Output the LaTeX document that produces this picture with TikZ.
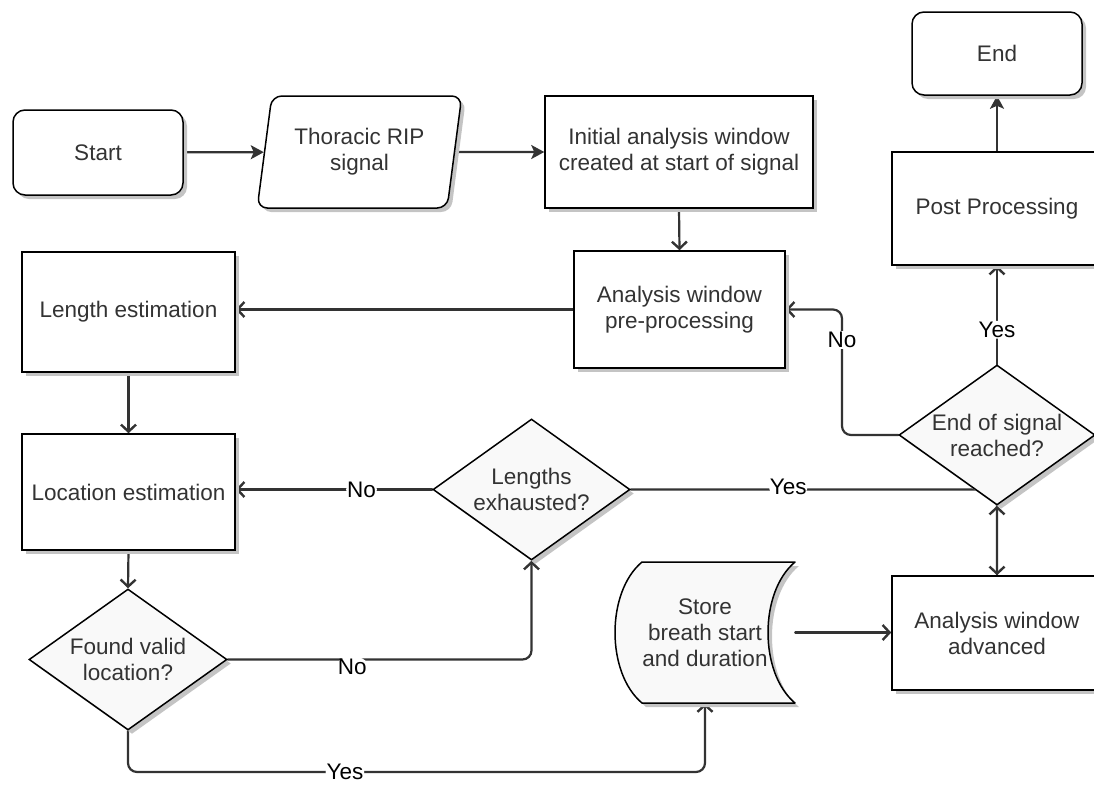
\documentclass[tikz,border=0pt]{standalone}
\usepackage{fontspec}
\setmainfont{Liberation Sans}
\usetikzlibrary{shapes.geometric,arrows.meta,shadows,backgrounds,calc}
\definecolor{edgec}{HTML}{333333}
\definecolor{txtc}{HTML}{333333}
\definecolor{dfill}{HTML}{F9F9F9}
\definecolor{shc}{HTML}{C4C4C4}
\begin{document}
\begin{tikzpicture}[x=1pt,y=-1pt,
  base/.style={draw=black, line width=1.5pt, text=txtc, font=\fontsize{22.5}{26}\selectfont,
    align=center, inner sep=0pt,
    drop shadow={shadow xshift=4pt, shadow yshift=-4pt, fill=shc, opacity=1}},
  proc/.style={base, rectangle, fill=white},
  term/.style={base, rectangle, rounded corners=12pt, fill=white},
  dec/.style={base, diamond, aspect=1.4, fill=dfill},
  io/.style={base, trapezium, trapezium left angle=77, trapezium right angle=103,
    trapezium stretches=true, rounded corners=10pt, fill=white},
  conn/.style={draw=edgec, line width=2.2pt, line cap=round, line join=round, rounded corners=9pt},
  oarrow/.style={conn, -{Straight Barb[length=7pt,width=15pt,line width=2.4pt]}},
  farrow/.style={conn, -{Stealth[length=13pt,width=14pt,inset=3pt]}},
  lbl/.style={fill=white, text=black, font=\fontsize{22.5}{26}\selectfont, inner sep=1pt},
]
\useasboundingbox (0,0) rectangle (1094,785);
\clip (0,0) rectangle (1094,785);

% nodes
\node[term, minimum width=170pt, minimum height=85pt] (start) at (98,152.5) {Start};
\node[io, minimum width=205pt, minimum height=112pt] (thor) at (359.5,152) {Thoracic RIP\\signal};
\node[proc, minimum width=268pt, minimum height=112pt] (init) at (679,152) {Initial analysis window\\created at start of signal};
\node[term, minimum width=170pt, minimum height=83pt] (endn) at (997,53.5) {End};
\node[proc, minimum width=210pt, minimum height=113pt] (post) at (997,208.5) {Post Processing};
\node[proc, minimum width=211pt, minimum height=117pt] (pre) at (679.5,309.5) {Analysis window\\pre-processing};
\node[proc, minimum width=213pt, minimum height=120pt] (len) at (128.5,312) {Length estimation};
\node[proc, minimum width=213pt, minimum height=116pt] (loc) at (128.5,492) {Location estimation};
\node[dec, minimum width=197pt, minimum height=141pt] (lex) at (531.5,489.5) {Lengths\\exhausted?};
\node[dec, minimum width=198pt, minimum height=141pt] (fvl) at (128,659.5) {Found valid\\location?};
\node[dec, minimum width=196pt, minimum height=140pt] (eos) at (997,435) {End of signal\\reached?};
\node[proc, minimum width=210pt, minimum height=114pt] (adv) at (997,633) {Analysis window\\advanced};
\node[text=txtc, font=\fontsize{22.5}{26}\selectfont, align=center, inner sep=0pt,
      minimum width=180pt, minimum height=141pt] (store) at (705,632.5) {Store\\breath start\\and duration};

\coordinate (xno) at (842,0);
\coordinate (ybot) at (0,772);

\begin{scope}[on background layer]
  \draw[farrow] (start) -- (thor);
  \draw[farrow] (thor) -- (init);
  \draw[oarrow] (init.south) -- (pre.north);
  \draw[oarrow] (pre.west) -- (pre.west -| len.east);
  \draw[oarrow] (len.south) -- (loc.north);
  \draw[oarrow] (loc.south) -- (fvl.north);
  \draw[oarrow] (lex.west) -- node[lbl, pos=0.36] (l1) {No} (lex.west -| loc.east);
  \draw[oarrow] (fvl.east) -- node[lbl, pos=0.41, yshift=-7pt] (l2) {No} (fvl.east -| lex.south) -- (lex.south);
  \draw[oarrow] (fvl.south) -- (fvl.south |- ybot) -- node[lbl, pos=0.376] (l3) {Yes} (store.south |- ybot) -- (store.south);
  \draw[oarrow] (store.east) -- (store.east -| adv.west);
  \draw[oarrow] (lex.east) -- node[lbl, pos=0.43, yshift=3pt] (l4) {Yes} (lex.east -| adv.north) -- (adv.north);
  \draw[oarrow] (adv.north) -- (eos.south);
  \draw[oarrow] (eos.west) -- (eos.west -| xno) -- node[lbl, pos=0.757] (l5) {No} (xno |- pre.east) -- (pre.east);
  \draw[oarrow] (eos.north) -- node[lbl, pos=0.35] (l6) {Yes} (post.south);
  \draw[farrow] (post.north) -- (endn.south);
  % stored data shape
  \fill[shc] (646,566) .. controls (610,596) and (610,677) .. (646,707) -- (799,707)
     .. controls (763,677) and (763,596) .. (799,566) -- cycle;
  \filldraw[fill=dfill, draw=black, line width=1.5pt, line join=round]
     (642,562) .. controls (606,592) and (606,673) .. (642,703) -- (795,703)
     .. controls (759,673) and (759,592) .. (795,562) -- cycle;
\end{scope}
\end{tikzpicture}
\end{document}
